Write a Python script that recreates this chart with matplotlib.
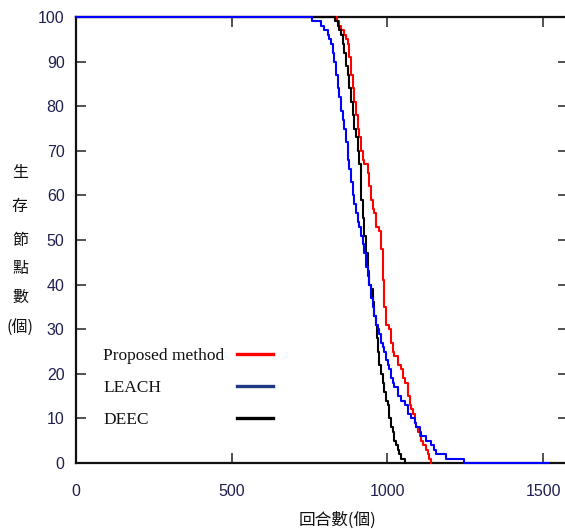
import matplotlib
matplotlib.use("Agg")
import matplotlib.pyplot as plt

# ---- data (rounds, alive nodes) ----
proposed_rounds = [0, 838, 846, 851, 862, 868, 873, 878, 884, 889, 894, 899, 905, 910, 916,
                   921, 926, 937, 942, 948, 953, 958, 964, 974, 980, 985, 990, 996, 1006,
                   1012, 1017, 1022, 1033, 1044, 1050, 1055, 1066, 1071, 1076, 1082, 1087,
                   1092, 1098, 1103, 1108, 1114, 1124, 1130, 1135, 1140]
proposed_alive = [100, 99, 98, 97, 96, 95, 94, 91, 87, 84, 81, 78, 75, 73, 70,
                  68, 67, 65, 62, 59, 57, 56, 53, 52, 48, 41, 35, 31, 30,
                  27, 25, 24, 22, 21, 19, 18, 15, 13, 12, 11, 9,
                  8, 7, 6, 5, 4, 3, 2, 1, 0]

leach_rounds = [0, 757, 787, 798, 808, 814, 819, 825, 830, 835, 841, 846, 851, 857, 862,
                868, 873, 878, 883, 889, 894, 900, 905, 910, 916, 921, 926, 932, 937,
                942, 948, 953, 958, 964, 969, 974, 980, 985, 990, 996, 1001, 1006, 1012,
                1017, 1022, 1033, 1044, 1055, 1066, 1076, 1087, 1092, 1103, 1108, 1124,
                1140, 1150, 1157, 1189, 1247, 1516]
leach_alive = [100, 99, 98, 97, 96, 95, 94, 92, 90, 87, 84, 82, 79, 77, 75,
               72, 68, 66, 63, 60, 58, 56, 54, 53, 51, 49, 47, 44, 42,
               40, 37, 35, 33, 31, 30, 29, 27, 26, 25, 23, 22, 21, 19,
               18, 17, 15, 14, 13, 11, 10, 9, 8, 7, 6, 5,
               4, 3, 2, 1, 0, 0]

deec_rounds = [0, 833, 840, 846, 851, 857, 862, 868, 873, 878, 883, 889, 894, 899, 905,
               910, 914, 916, 921, 926, 932, 937, 942, 948, 953, 958, 964, 966, 969,
               974, 980, 985, 990, 996, 1001, 1006, 1012, 1017, 1022, 1028, 1033, 1038,
               1044, 1055]
deec_alive = [100, 99, 98, 97, 96, 94, 92, 89, 87, 84, 81, 78, 75, 73, 70,
              67, 63, 59, 55, 51, 47, 43, 40, 39, 36, 33, 31, 28, 25,
              22, 20, 18, 16, 14, 13, 10, 8, 7, 5, 4, 3, 2,
              1, 0]

series_labels = ["Proposed method", "LEACH", "DEEC"]
x_ticks = [0, 500, 1000, 1500]
y_ticks = list(range(0, 101, 10))
x_label = "回合數(個)"
y_label_chars = ["生", "存", "節", "點", "數", "(個)"]

W, H = 565, 529
fig = plt.figure(figsize=(W / 100, H / 100), dpi=100)
ax_left, ax_right, ax_top, ax_bottom = 75.7, 568.2, 17, 463
ax = fig.add_axes([ax_left / W, 1 - ax_bottom / H, (ax_right - ax_left) / W, (ax_bottom - ax_top) / H])

ax.plot(proposed_rounds, proposed_alive, drawstyle="steps-post", color="#ff0000", lw=1.5, zorder=3, clip_on=False)
ax.plot(deec_rounds, deec_alive, drawstyle="steps-post", color="#000000", lw=1.5, zorder=3, clip_on=False)
ax.plot(leach_rounds, leach_alive, drawstyle="steps-post", color="#0000ff", lw=1.5, zorder=4, clip_on=False)

ax.set_xlim(0, 1580)
ax.set_ylim(0, 100)
ax.set_xticks(x_ticks)
ax.set_yticks(y_ticks)

for s in ax.spines.values():
    s.set_linewidth(1.6)
    s.set_color("#111111")
ax.spines["right"].set_visible(False)

tick_color = "#202050"
ax.tick_params(axis="both", direction="in", length=7, width=1.2, color="#333333",
               top=True, right=True, labelcolor=tick_color)
ax.tick_params(axis="x", pad=15)
ax.tick_params(axis="y", pad=8)
for lab in ax.get_xticklabels() + ax.get_yticklabels():
    lab.set_fontfamily("Liberation Sans")
    lab.set_fontsize(11.5)

# legend (manual, text then line)
leg_colors = ["#ff0000", "#1f3a80", "#000000"]
leg_y = [356, 388, 420]
for lab, c, yy in zip(series_labels, leg_colors, leg_y):
    fig.text(103 / W, 1 - yy / H, lab, family="Liberation Serif", fontsize=12.5,
             ha="left", va="center", color="#111111")
    fig.add_artist(plt.Line2D([237 / W, 273 / W], [1 - (yy - 2) / H, 1 - (yy - 2) / H],
                              color=c, lw=2.4, transform=fig.transFigure))

# labels
cjk = ["Noto Sans CJK TC", "DejaVu Sans"]
fig.text(337 / W, 1 - 520 / H, x_label, family=cjk, fontsize=12, ha="center", va="center", color="#111111")
y_pos = [173, 207, 240, 268, 297, 328]
for ch, yy in zip(y_label_chars, y_pos):
    fig.text(20 / W, 1 - yy / H, ch, family=cjk, fontsize=11.5, ha="center", va="center", color="#111111")

fig.savefig("out.png", dpi=100)
